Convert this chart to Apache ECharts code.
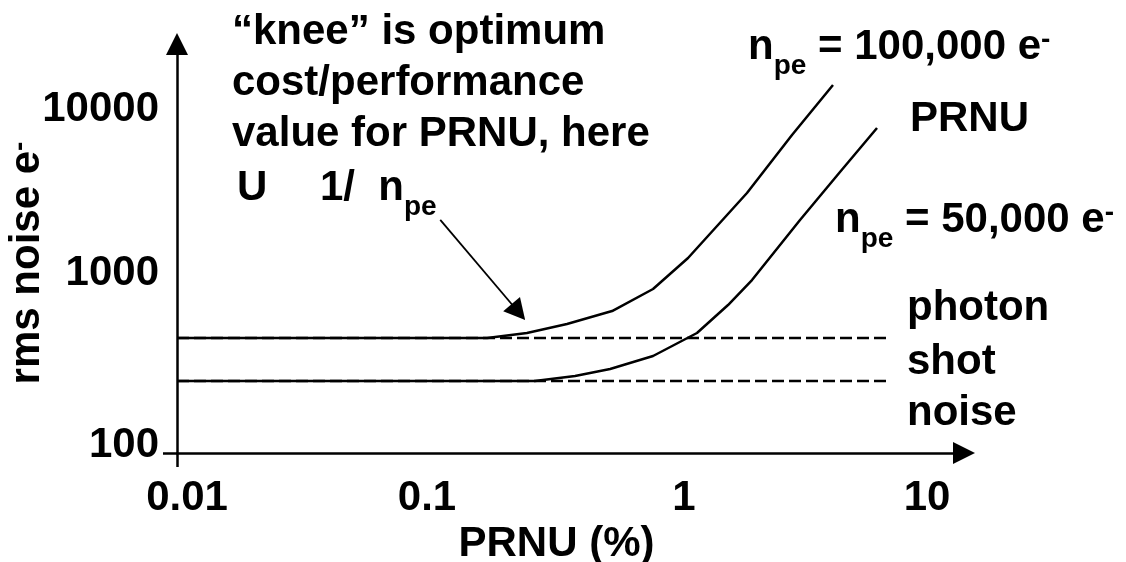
<!DOCTYPE html>
<html>
<head>
<meta charset="utf-8">
<script src="https://cdn.jsdelivr.net/npm/echarts@6/dist/echarts.min.js"></script>
<style>
html,body{margin:0;padding:0;background:#fff;}
#chart{width:1126px;height:562px;}
</style>
</head>
<body>
<div id="chart"></div>
<script>
// ---- data ----
const xTickLabels = [0.01, 0.1, 1, 10];
const yTickLabels = [100, 1000, 10000];
// n_pe = 100,000 e- : PRNU (%) vs rms noise (e-)
const upperX = [0.01, 0.174, 0.251, 0.363, 0.550, 0.802, 1.107, 1.905, 2.884, 4.207];
const upperY = [475, 475, 508, 574, 684, 922, 1403, 3383, 7424, 14620];
// n_pe = 50,000 e-
const lowerX = [0.01, 0.270, 0.391, 0.540, 0.802, 1.202, 1.600, 1.995, 3.105, 4.487, 6.310];
const lowerY = [265, 265, 284, 312, 372, 508, 742, 1041, 2348, 4498, 8160];
// photon shot noise levels (dashed)
const shotX = [0.01, 7];
const shotUpper = [475, 475];
const shotLower = [265, 265];
// "knee" annotation arrow (data coordinates)
const arrowFrom = [0.113, 2350];
const arrowTo = [0.232, 675];

const zip = (xs, ys) => xs.map((x, i) => [x, ys[i]]);
const FONT = '"Liberation Sans", Arial, sans-serif';
const base = {fontFamily: FONT, fontWeight: 'bold', fontSize: 42, color: '#000'};
const tok = (pad) => Object.assign({}, base, {padding: pad});
const rich = {
  a: {fontFamily: FONT, fontWeight: 'bold', fontSize: 42, lineHeight: 48, color: '#000', verticalAlign: 'top'},
  sub: {fontFamily: FONT, fontWeight: 'bold', fontSize: 28, lineHeight: 30, color: '#000', verticalAlign: 'top', padding: [26, 0, 0, 0]},
  sup: {fontFamily: FONT, fontWeight: 'bold', fontSize: 28, lineHeight: 20, color: '#000', verticalAlign: 'top'}
};

const chart = echarts.init(document.getElementById('chart'), null, {renderer: 'canvas'});

function txt(x, y, text, useRich) {
  return {
    type: 'text', left: x, top: y, silent: true,
    style: useRich ? {text: text, rich: rich, fill: '#000'} :
      {text: text, font: 'bold 42px ' + FONT, fill: '#000'}
  };
}

const option = {
  backgroundColor: '#fff',
  animation: false,
  grid: {left: 177, right: 162, top: 44, bottom: 109, outerBoundsMode: 'none'},
  xAxis: {
    type: 'log', logBase: 10, min: 0.01, max: 14.06,
    name: 'PRNU (%)', nameLocation: 'middle', nameGap: 69,
    nameTextStyle: Object.assign({}, base, {padding: [0, 28, 0, 0], verticalAlign: 'top'}),
    axisLine: {show: true, lineStyle: {color: '#000', width: 2.5}, symbol: ['none', 'triangle'], symbolSize: [22, 22]},
    axisTick: {show: true, customValues: [xTickLabels[0]], length: 14, lineStyle: {color: '#000', width: 2.5}},
    axisLabel: Object.assign({}, base, {
      customValues: xTickLabels, margin: 24,
      formatter: v => v === 0.01 ? '{x001|0.01}' : (v === 1 ? '{x1|1}' : String(v)),
      rich: {x001: tok([0, 0, 0, 20]), x1: tok([0, 0, 0, 14])}
    }),
    splitLine: {show: false}, minorTick: {show: false}, minorSplitLine: {show: false}
  },
  yAxis: {
    type: 'log', logBase: 10, min: 100, max: 25470,
    axisLine: {show: true, lineStyle: {color: '#000', width: 2.5}, symbol: ['none', 'triangle'], symbolSize: [22, 22]},
    axisTick: {show: true, customValues: [yTickLabels[0]], length: 14, lineStyle: {color: '#000', width: 2.5}},
    axisLabel: Object.assign({}, base, {
      customValues: yTickLabels, margin: 18,
      formatter: v => '{y' + v + '|' + v + '}',
      rich: {y100: tok([0, 0, 16, 0]), y1000: tok([0, 0, 20, 0]), y10000: tok([0, 0, 8, 0])}
    }),
    splitLine: {show: false}, minorTick: {show: false}, minorSplitLine: {show: false}
  },
  series: [
    {type: 'line', name: 'shot100k', data: zip(shotX, shotUpper), symbol: 'none', silent: true,
     lineStyle: {color: '#000', width: 2.5, type: [12, 5]}},
    {type: 'line', name: 'shot50k', data: zip(shotX, shotLower), symbol: 'none', silent: true,
     lineStyle: {color: '#000', width: 2.5, type: [12, 5]}},
    {type: 'line', name: 'npe100k', data: zip(upperX, upperY), symbol: 'none', silent: true,
     lineStyle: {color: '#000', width: 2.5},
     markLine: {silent: true, symbol: ['none', 'triangle'], symbolSize: [22, 21], label: {show: false},
       lineStyle: {color: '#000', width: 1.8, type: 'solid'},
       data: [[{coord: arrowFrom}, {coord: arrowTo}]]}},
    {type: 'line', name: 'npe50k', data: zip(lowerX, lowerY), symbol: 'none', silent: true,
     lineStyle: {color: '#000', width: 2.5}}
  ],
  graphic: [
    {type: 'text', x: 30, y: 263, rotation: Math.PI / 2, silent: true,
     style: {text: '{a|rms noise e}{sup|-}', rich: rich, align: 'center', verticalAlign: 'middle', fill: '#000'}},
    txt(232, 11, '“knee” is optimum'),
    txt(232, 62, 'cost/performance'),
    txt(232, 113, 'value for PRNU, here'),
    txt(237, 167, 'U'),
    txt(320, 167, '{a|1/  n}{sub|pe}', true),
    txt(748, 26, '{a|n}{sub|pe}{a| = 100,000 e}{sup|-}', true),
    txt(910, 98, 'PRNU'),
    txt(835, 199, '{a|n}{sub|pe}{a| = 50,000 e}{sup|-}', true),
    txt(907, 287, 'photon'),
    txt(907, 341, 'shot'),
    txt(907, 392, 'noise')
  ]
};
chart.setOption(option);
</script>
</body>
</html>
